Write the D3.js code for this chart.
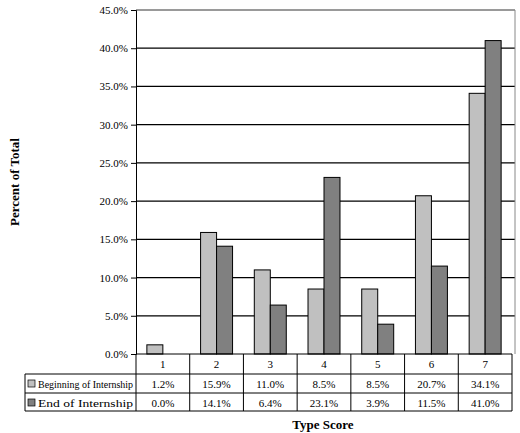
<!DOCTYPE html><html><head><meta charset="utf-8"><script src="https://d3js.org/d3.v7.min.js"></script>
<style>body{margin:0;background:#fff}svg text{font-family:"Liberation Serif","Times New Roman",serif !important}</style></head><body><svg id="c" width="520" height="433"></svg>
<script>
const categories=["1","2","3","4","5","6","7"];
const seriesNames=["Beginning of Internship","End of Internship"];
const beginning=[1.2,15.9,11.0,8.5,8.5,20.7,34.1];
const ending=[0.0,14.1,6.4,23.1,3.9,11.5,41.0];
const yTicks=[0,5,10,15,20,25,30,35,40,45];
const colors=["#c0c0c0","#808080"];
const svg=d3.select("#c");
const L=136,R=512,T=10,B=354;
const x=d3.scaleBand().domain(categories).range([L,R]);
const y=d3.scaleLinear().domain([0,45]).range([B,T]);
const xs=d3.scaleBand().domain([0,1]).range([0,x.bandwidth()]).paddingOuter(0.68).paddingInner(0);
svg.append("g").selectAll("line").data(yTicks.slice(1)).join("line")
 .attr("x1",L).attr("x2",515).attr("y1",d=>y(d)).attr("y2",d=>y(d)).attr("stroke","#000").attr("stroke-width",d=>d==45?0.8:1.2);
svg.append("line").attr("x1",515).attr("x2",515).attr("y1",T).attr("y2",B).attr("stroke","#888");
const ax=svg.append("g").attr("transform",`translate(${L},0)`).call(d3.axisLeft(y).tickValues(yTicks).tickFormat(d=>d.toFixed(1)+"%").tickSize(5));
ax.attr("font-family",null);
ax.select(".domain").attr("stroke","#000");
ax.selectAll("text").attr("font-size",11).style("font-family","Liberation Serif").attr("fill","#000");
[beginning,ending].forEach((s,k)=>{
 svg.append("g").selectAll("rect").data(s).join("rect")
  .attr("x",(d,i)=>x(categories[i])+xs(k)).attr("width",xs.bandwidth())
  .attr("y",d=>y(d)).attr("height",d=>B-y(d))
  .attr("fill",colors[k]).attr("stroke",d=>d>0?"#000":"none").attr("stroke-width",1);
});
// table
const tL=25,rows=[354,374,393,411];
const g=svg.append("g").attr("stroke","#000").attr("stroke-width",1);
g.append("line").attr("x1",L).attr("x2",R).attr("y1",B).attr("y2",B);
rows.slice(1).forEach(yy=>g.append("line").attr("x1",tL).attr("x2",R).attr("y1",yy).attr("y2",yy));
g.append("line").attr("x1",tL).attr("x2",tL).attr("y1",rows[1]).attr("y2",rows[3]);
categories.forEach(c=>g.append("line").attr("x1",x(c)).attr("x2",x(c)).attr("y1",B).attr("y2",rows[3]));
g.append("line").attr("x1",R).attr("x2",R).attr("y1",B).attr("y2",rows[3]);
svg.append("g").selectAll("text").data(categories).join("text").attr("x",c=>x(c)+x.bandwidth()/2).attr("y",368).attr("text-anchor","middle").attr("font-size",11).text(c=>c);
[beginning,ending].forEach((s,k)=>{
 const yy=rows[k+1]+14;
 svg.append("g").selectAll("text").data(s).join("text").attr("x",(d,i)=>x(categories[i])+x.bandwidth()/2).attr("y",yy).attr("text-anchor","middle").attr("font-size",11).text(d=>d.toFixed(1)+"%");
 svg.append("rect").attr("x",tL+3).attr("y",yy-8).attr("width",7).attr("height",7).attr("fill",colors[k]).attr("stroke","#000").attr("stroke-width",0.7);
 svg.append("text").attr("x",tL+13).attr("y",yy).attr("font-size",11).attr("textLength",L-tL-16).attr("lengthAdjust","spacingAndGlyphs").text(seriesNames[k]);
});
svg.append("text").attr("x",323).attr("y",429).attr("text-anchor","middle").attr("font-size",13).attr("font-weight","bold").text("Type Score");
svg.append("text").attr("transform","translate(19,182) rotate(-90)").attr("text-anchor","middle").attr("font-size",13).attr("font-weight","bold").text("Percent of Total");
</script></body></html>
